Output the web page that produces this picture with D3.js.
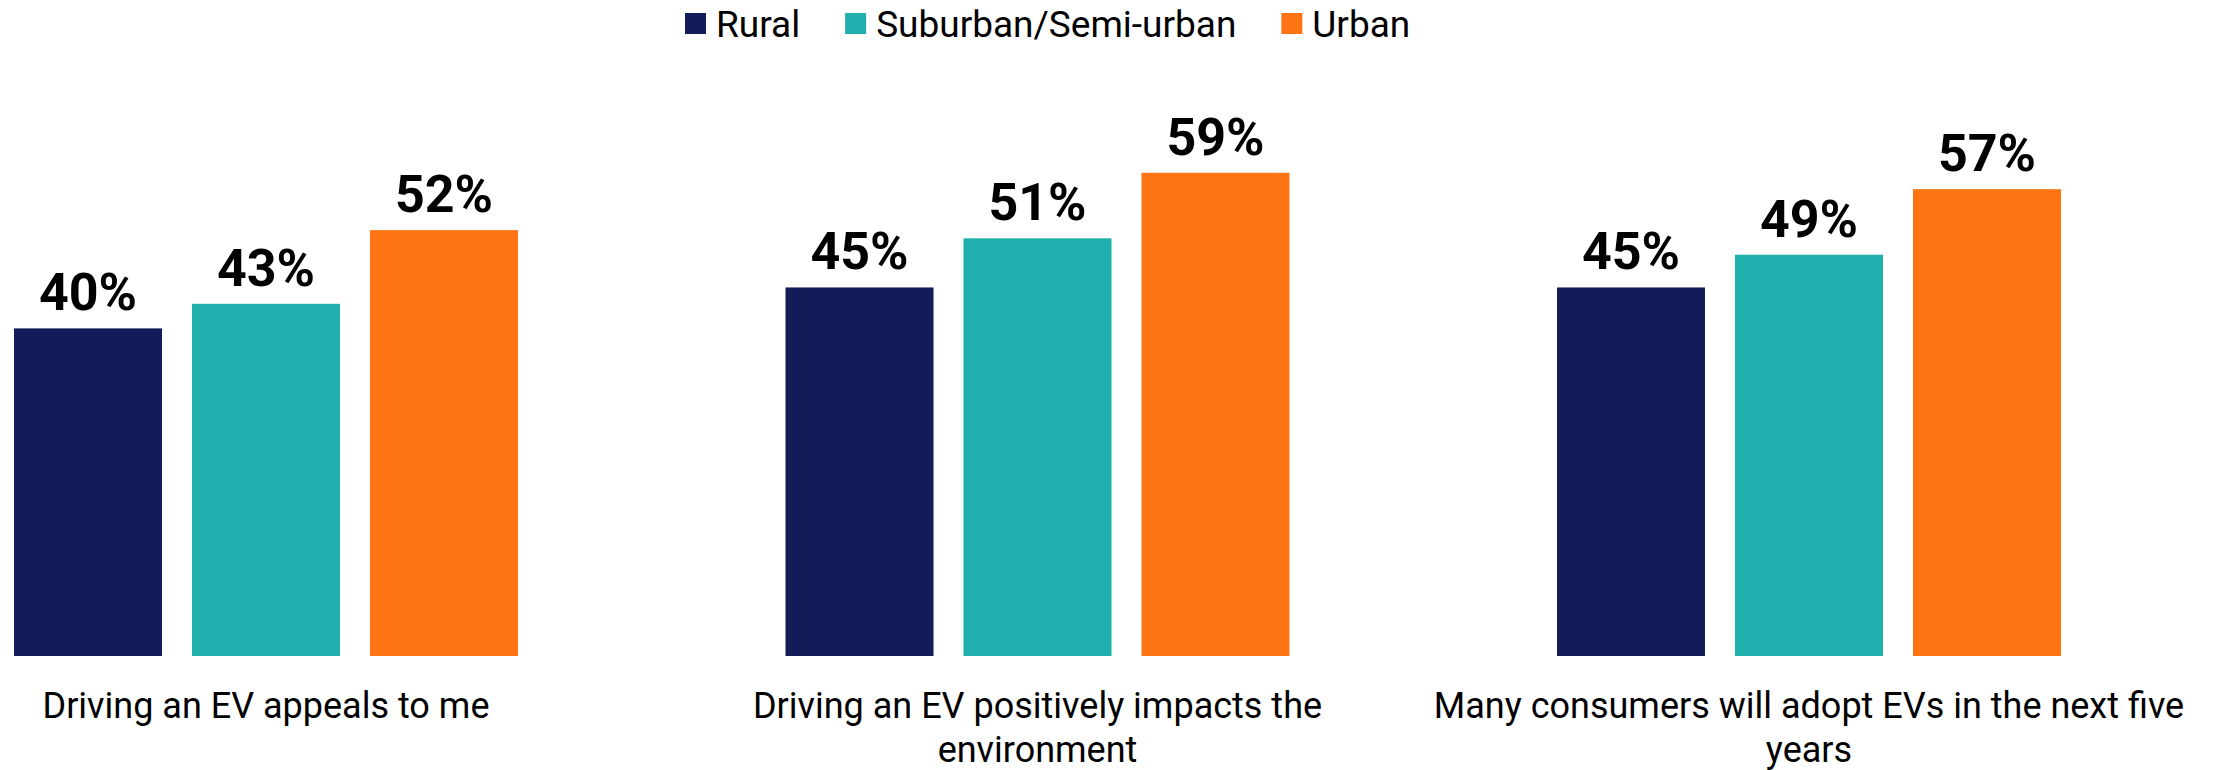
<!DOCTYPE html>
<html>
<head>
<meta charset="utf-8">
<script src="https://cdn.jsdelivr.net/npm/d3@7"></script>
<style>
  html, body { margin: 0; padding: 0; background: #ffffff; }
  svg { display: block; }
  text { font-family: Roboto, "Noto Sans", sans-serif; fill: #000; }
</style>
</head>
<body>
<svg id="chart" width="2215" height="770"></svg>
<script>
// Survey statements (x categories)
const categories = [
  "Driving an EV appeals to me",
  "Driving an EV positively impacts the environment",
  "Many consumers will adopt EVs in the next five years"
];
// Respondent groups (series)
const seriesNames = ["Rural", "Suburban/Semi-urban", "Urban"];
// Share agreeing, per statement, for each group
const rural    = [0.40, 0.45, 0.45];
const suburban = [0.43, 0.51, 0.49];
const urban    = [0.52, 0.59, 0.57];
const seriesColors = ["#131B58", "#1FAFAD", "#FF7412"];

const seriesValues = [rural, suburban, urban];
const rows = categories.map((c, i) => ({
  category: c,
  values: seriesNames.map((s, j) => ({ series: s, value: seriesValues[j][i] }))
}));

const svg = d3.select("#chart");

// Layout
const baseY = 656;
const x0 = d3.scaleBand()
  .domain(categories)
  .range([14, 14 + 771.5 * 3])
  .paddingInner(0)
  .paddingOuter(0);
const groupWidth = 504;
const x1 = d3.scaleBand()
  .domain(seriesNames)
  .range([0, groupWidth])
  .paddingInner(30 / 178)
  .paddingOuter(0);
const y = d3.scaleLinear().domain([0, 0.8]).range([baseY, baseY - 8.19 * 80]);
const color = d3.scaleOrdinal().domain(seriesNames).range(seriesColors);
const pct = d3.format(".0%");

// Bars and value labels
const groups = svg.append("g").selectAll("g")
  .data(rows)
  .join("g")
  .attr("transform", d => `translate(${x0(d.category)},0)`);

groups.selectAll("rect")
  .data(d => d.values)
  .join("rect")
  .attr("x", d => x1(d.series))
  .attr("y", d => y(d.value))
  .attr("width", x1.bandwidth())
  .attr("height", d => y(0) - y(d.value))
  .attr("fill", d => color(d.series));

groups.selectAll("text.value")
  .data(d => d.values)
  .join("text")
  .attr("class", "value")
  .attr("x", d => x1(d.series) + x1.bandwidth() / 2)
  .attr("y", d => y(d.value) - 18)
  .attr("text-anchor", "middle")
  .style("font-size", "52px")
  .style("font-weight", "700")
  .text(d => pct(d.value));

// Category labels, wrapped and centred under each group
const maxLine = 760;
groups.append("text")
  .attr("class", "cat")
  .attr("text-anchor", "middle")
  .style("font-size", "36px")
  .each(function(d) {
    const t = d3.select(this);
    const words = d.category.split(" ");
    const lines = [];
    let line = [];
    const probe = t.append("tspan");
    words.forEach(w => {
      const trial = line.concat(w).join(" ");
      probe.text(trial);
      if (probe.node().getComputedTextLength() > maxLine && line.length) {
        lines.push(line.join(" "));
        line = [w];
      } else {
        line.push(w);
      }
    });
    lines.push(line.join(" "));
    probe.remove();
    lines.forEach((l, i) => {
      t.append("tspan")
        .attr("x", groupWidth / 2)
        .attr("y", 718 + i * 44)
        .text(l);
    });
  });

// Legend
const legend = svg.append("g").attr("transform", "translate(685,0)");
let lx = 0;
seriesNames.forEach(s => {
  const item = legend.append("g").attr("transform", `translate(${lx},0)`);
  item.append("rect")
    .attr("x", 0).attr("y", 13)
    .attr("width", 21).attr("height", 21)
    .attr("fill", color(s));
  const txt = item.append("text")
    .attr("x", 31).attr("y", 37)
    .style("font-size", "37px")
    .text(s);
  lx += 31 + txt.node().getComputedTextLength() + 45;
});
</script>
</body>
</html>
